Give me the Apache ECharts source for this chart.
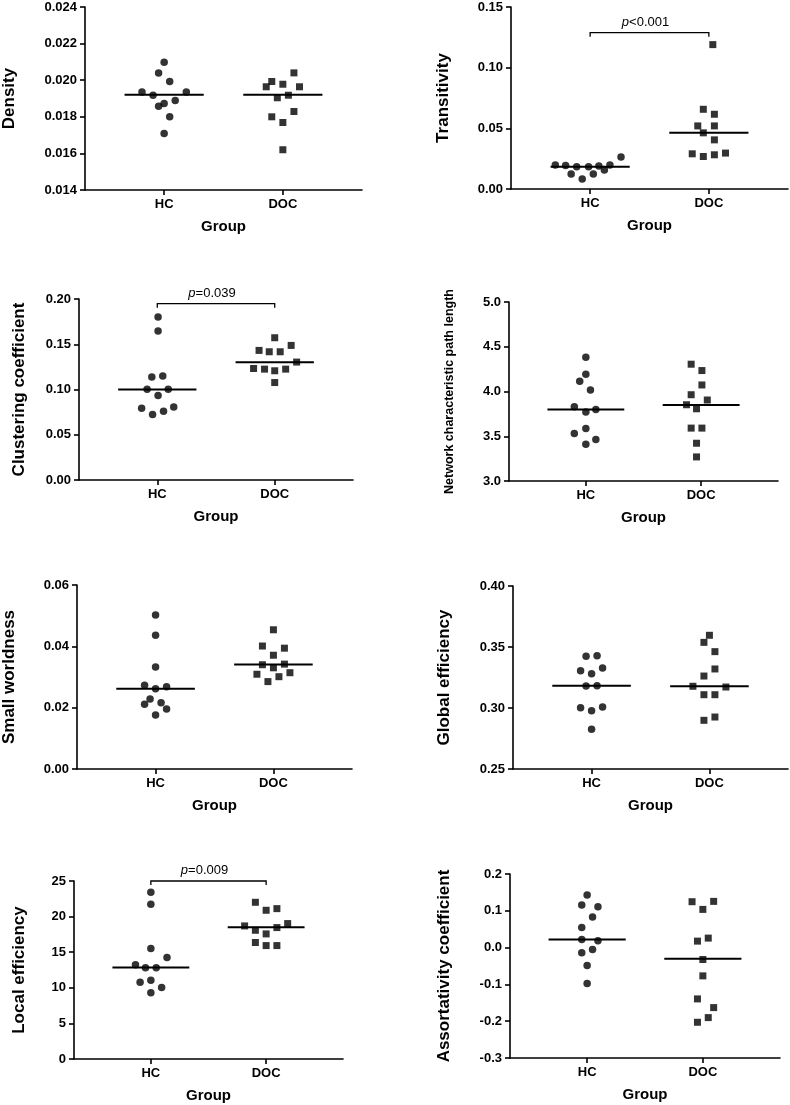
<!DOCTYPE html>
<html><head><meta charset="utf-8">
<script src="https://cdn.jsdelivr.net/npm/echarts@6/dist/echarts.min.js"></script>
<style>html,body{margin:0;padding:0;background:#fff}#c{width:790px;height:1105px}</style>
</head><body><div id="c"></div>
<script>
// ---------- data ----------
const groups = ['HC', 'DOC'];
const groupX = [1, 2.5];
const xAxisTitle = 'Group';

// Density
const densityHC = [0.01935, 0.01918, 0.02098, 0.02040, 0.01993, 0.01935, 0.01858, 0.01873, 0.01889, 0.01800, 0.01709];
const densityHCJitter = [-0.28, -0.14, 0, -0.07, 0.07, 0.28, -0.07, 0, 0.14, 0.07, 0];
const densityDOC = [0.01964, 0.01993, 0.01978, 0.02040, 0.01964, 0.01904, 0.01918, 0.01829, 0.01800, 0.01769, 0.01620];
const densityDOCJitter = [-0.21, -0.14, 0, 0.14, 0.21, -0.07, 0.07, 0.14, -0.14, 0, 0];
const densityMedian = [0.0192, 0.0192];
const densityTicks = ['0.014', '0.016', '0.018', '0.020', '0.022', '0.024'];

// Transitivity
const transHC = [0.0197, 0.0194, 0.0183, 0.0183, 0.0189, 0.0197, 0.0263, 0.0123, 0.0123, 0.0082, 0.0156];
const transHCJitter = [-0.44, -0.31, -0.17, -0.02, 0.11, 0.25, 0.39, -0.24, 0.04, -0.10, 0.18];
const transDOC = [0.119, 0.0657, 0.0616, 0.052, 0.052, 0.0463, 0.0405, 0.029, 0.0268, 0.0282, 0.0296];
const transDOCJitter = [0.05, -0.07, 0.07, -0.14, 0.07, -0.07, 0.07, -0.21, -0.07, 0.07, 0.21];
const transMedian = [0.0183, 0.0463];
const transTicks = ['0.00', '0.05', '0.10', '0.15'];
const transSig = { text: '<0.001', y: 0.1288 };

// Clustering coefficient
const clustHC = [0.180, 0.1646, 0.1137, 0.1148, 0.1004, 0.1004, 0.0934, 0.0793, 0.0808, 0.0760, 0.0723];
const clustHCJitter = [0.01, 0.01, -0.07, 0.07, -0.13, 0.14, 0.01, -0.20, 0.21, 0.08, -0.06];
const clustDOC = [0.1572, 0.1432, 0.1417, 0.1417, 0.1487, 0.1303, 0.1232, 0.1225, 0.1225, 0.1207, 0.1077];
const clustDOCJitter = [0, -0.20, -0.07, 0.07, 0.21, 0.28, -0.27, -0.13, 0.14, 0, 0];
const clustMedian = [0.100, 0.130];
const clustTicks = ['0.00', '0.05', '0.10', '0.15', '0.20'];
const clustSig = { text: '=0.039', y: 0.1948 };

// Network characteristic path length
const pathHC = [4.383, 4.193, 4.114, 4.017, 3.830, 3.770, 3.800, 3.587, 3.531, 3.464, 3.411];
const pathHCJitter = [0, 0, -0.08, 0.06, -0.15, 0, 0.13, 0, -0.15, 0.13, 0];
const pathDOC = [4.305, 4.234, 4.073, 3.964, 3.905, 3.852, 3.807, 3.591, 3.591, 3.422, 3.269];
const pathDOCJitter = [-0.13, 0.01, 0.01, -0.13, 0.08, -0.19, -0.06, -0.13, 0.01, -0.06, -0.06];
const pathMedian = [3.80, 3.849];
const pathTicks = ['3.0', '3.5', '4.0', '4.5', '5.0'];

// Small worldness
const swHC = [0.0502, 0.0436, 0.0333, 0.0273, 0.0262, 0.0268, 0.0228, 0.0211, 0.0216, 0.0196, 0.0176];
const swHCJitter = [0, 0, 0, -0.14, 0, 0.14, -0.07, -0.14, 0.07, 0.14, 0];
const swDOC = [0.0454, 0.0401, 0.0394, 0.0371, 0.0340, 0.0342, 0.0330, 0.0309, 0.0314, 0.0301, 0.0285];
const swDOCJitter = [0, -0.14, 0.14, 0, -0.14, 0.14, 0, -0.21, 0.21, 0.07, -0.07];
const swMedian = [0.0262, 0.0341];
const swTicks = ['0.00', '0.02', '0.04', '0.06'];

// Global efficiency
const geHC = [0.3424, 0.3429, 0.3306, 0.3328, 0.3281, 0.3180, 0.3183, 0.3003, 0.3008, 0.2978, 0.2825];
const geHCJitter = [-0.07, 0.07, -0.14, 0.14, 0, -0.07, 0.07, -0.14, 0.14, 0, 0];
const geDOC = [0.3596, 0.3538, 0.3462, 0.3320, 0.3262, 0.3178, 0.3172, 0.3109, 0.3109, 0.2926, 0.2899];
const geDOCJitter = [0, -0.07, 0.07, 0.07, -0.07, -0.21, 0.21, -0.07, 0.07, 0.07, -0.07];
const geMedian = [0.3183, 0.3178];
const geTicks = ['0.25', '0.30', '0.35', '0.40'];

// Local efficiency
const leHC = [23.41, 21.73, 15.51, 14.25, 13.22, 12.80, 12.80, 10.79, 11.07, 10.05, 9.30];
const leHCJitter = [0, 0, 0, 0.21, -0.20, -0.07, 0.07, -0.14, 0, 0.14, 0];
const leDOC = [22.01, 20.89, 21.12, 18.69, 19.02, 18.08, 18.46, 17.57, 16.36, 15.93, 15.93];
const leDOCJitter = [-0.14, 0, 0.14, -0.28, 0.28, -0.14, 0.14, 0, -0.14, 0, 0.14];
const leMedian = [12.85, 18.5];
const leTicks = ['0', '5', '10', '15', '20', '25'];
const leSig = { text: '=0.009', y: 25 };

// Assortativity coefficient
const asHC = [0.1428, 0.1156, 0.1111, 0.0829, 0.0548, 0.0221, 0.0185, -0.0051, -0.0142, -0.0486, -0.0976];
const asHCJitter = [0, -0.07, 0.14, 0.07, -0.07, -0.07, 0.14, 0.07, -0.07, 0, 0];
const asDOC = [0.1247, 0.1256, 0.1038, 0.0258, 0.0176, -0.0323, -0.0768, -0.1394, -0.1630, -0.1902, -0.2029];
const asDOCJitter = [-0.14, 0.14, 0, 0.07, -0.07, 0, 0, -0.07, 0.14, 0.07, -0.07];
const asMedian = [0.022, -0.0305];
const asTicks = ['-0.3', '-0.2', '-0.1', '0.0', '0.1', '0.2'];

const panels = [
  { title: 'Density', hc: densityHC, hcJ: densityHCJitter, doc: densityDOC, docJ: densityDOCJitter, median: densityMedian, ticks: densityTicks, sig: null },
  { title: 'Transitivity', hc: transHC, hcJ: transHCJitter, doc: transDOC, docJ: transDOCJitter, median: transMedian, ticks: transTicks, sig: transSig },
  { title: 'Clustering coefficient', hc: clustHC, hcJ: clustHCJitter, doc: clustDOC, docJ: clustDOCJitter, median: clustMedian, ticks: clustTicks, sig: clustSig },
  { title: 'Network characteristic path length', hc: pathHC, hcJ: pathHCJitter, doc: pathDOC, docJ: pathDOCJitter, median: pathMedian, ticks: pathTicks, sig: null },
  { title: 'Small worldness', hc: swHC, hcJ: swHCJitter, doc: swDOC, docJ: swDOCJitter, median: swMedian, ticks: swTicks, sig: null },
  { title: 'Global efficiency', hc: geHC, hcJ: geHCJitter, doc: geDOC, docJ: geDOCJitter, median: geMedian, ticks: geTicks, sig: null },
  { title: 'Local efficiency', hc: leHC, hcJ: leHCJitter, doc: leDOC, docJ: leDOCJitter, median: leMedian, ticks: leTicks, sig: leSig },
  { title: 'Assortativity coefficient', hc: asHC, hcJ: asHCJitter, doc: asDOC, docJ: asDOCJitter, median: asMedian, ticks: asTicks, sig: null }
];

// ---------- layout / style ----------
const layout = [
  { left: 84, top: 7, width: 278, height: 183, nameGap: 67, nameSize: 17 },
  { left: 511, top: 7, width: 277, height: 182, nameGap: 59, nameSize: 17 },
  { left: 79, top: 299, width: 274, height: 181, nameGap: 51, nameSize: 17 },
  { left: 509, top: 302, width: 269, height: 179, nameGap: 53, nameSize: 12.5 },
  { left: 77, top: 585, width: 275, height: 184, nameGap: 59, nameSize: 17 },
  { left: 513, top: 586, width: 275, height: 183, nameGap: 60, nameSize: 17 },
  { left: 74, top: 881, width: 269, height: 178, nameGap: 46, nameSize: 17 },
  { left: 510, top: 874, width: 270, height: 184, nameGap: 57, nameSize: 17 }
];
const FONT = '"Liberation Sans", Arial, Helvetica, sans-serif';
const X_MIN = 0, X_MAX = 3.5, MEDIAN_HALF = 0.5;
const axisLineStyle = { color: '#000', width: 1.6 };

const grid = [], xAxis = [], yAxis = [], series = [];

panels.forEach((p, i) => {
  const L = layout[i];
  grid.push({ left: L.left, top: L.top, width: L.width, height: L.height, containLabel: false });
  xAxis.push({
    type: 'value', gridIndex: i, min: X_MIN, max: X_MAX,
    name: xAxisTitle, nameLocation: 'middle', nameGap: 29,
    nameTextStyle: { fontFamily: FONT, fontWeight: 'bold', fontSize: 15, color: '#000' },
    axisLine: { show: true, onZero: false, lineStyle: axisLineStyle },
    axisTick: { show: true, length: 5, lineStyle: axisLineStyle, customValues: groupX },
    axisLabel: {
      customValues: groupX, margin: 8, color: '#000', fontFamily: FONT, fontWeight: 'bold', fontSize: 13,
      formatter: v => groups[groupX.findIndex(g => Math.abs(g - v) < 1e-6)] || ''
    },
    splitLine: { show: false }
  });
  const tmin = parseFloat(p.ticks[0]);
  const tmax = parseFloat(p.ticks[p.ticks.length - 1]);
  const tint = (tmax - tmin) / (p.ticks.length - 1);
  yAxis.push({
    type: 'value', gridIndex: i, min: tmin, max: tmax, interval: tint,
    name: p.title, nameLocation: 'middle', nameGap: L.nameGap, nameRotate: 90,
    nameTextStyle: { fontFamily: FONT, fontWeight: 'bold', fontSize: L.nameSize, color: '#000' },
    axisLine: { show: true, onZero: false, lineStyle: axisLineStyle },
    axisTick: { show: true, length: 5, lineStyle: axisLineStyle },
    axisLabel: {
      margin: 8, color: '#000', fontFamily: FONT, fontWeight: 'bold', fontSize: 13,
      formatter: v => p.ticks[Math.round((v - tmin) / tint)]
    },
    splitLine: { show: false }
  });
  series.push({
    type: 'scatter', xAxisIndex: i, yAxisIndex: i, symbol: 'circle', symbolSize: 7.5,
    itemStyle: { color: '#000' }, silent: true,
    data: p.hc.map((v, k) => [groupX[0] + p.hcJ[k], v])
  });
  series.push({
    type: 'scatter', xAxisIndex: i, yAxisIndex: i, symbol: 'rect', symbolSize: 7,
    itemStyle: { color: '#000' }, silent: true,
    data: p.doc.map((v, k) => [groupX[1] + p.docJ[k], v])
  });
  series.push({
    type: 'custom', xAxisIndex: i, yAxisIndex: i, silent: true, z: 5,
    data: groupX.map((x, k) => [x, p.median[k]]),
    renderItem: (params, api) => {
      const a = api.coord([api.value(0) - MEDIAN_HALF, api.value(1)]);
      const b = api.coord([api.value(0) + MEDIAN_HALF, api.value(1)]);
      return { type: 'line', shape: { x1: a[0], y1: a[1], x2: b[0], y2: b[1] }, style: { stroke: '#000', lineWidth: 2 } };
    }
  });
  if (p.sig) {
    series.push({
      type: 'custom', xAxisIndex: i, yAxisIndex: i, silent: true, z: 5, clip: false,
      data: [[groupX[0], groupX[1], p.sig.y]],
      renderItem: (params, api) => {
        const a = api.coord([api.value(0), api.value(2)]);
        const b = api.coord([api.value(1), api.value(2)]);
        return {
          type: 'group', children: [
            { type: 'polyline', shape: { points: [[a[0], a[1] + 4], [a[0], a[1]], [b[0], b[1]], [b[0], b[1] + 4]] },
              style: { stroke: '#000', lineWidth: 1.3, fill: null } },
            { type: 'text', x: (a[0] + b[0]) / 2 - 4, y: a[1] - 4,
              style: {
                text: '{i|p}{n|' + p.sig.text + '}', align: 'center', verticalAlign: 'bottom', fill: '#000',
                rich: {
                  i: { fontStyle: 'italic', fontSize: 13, fontFamily: FONT, fill: '#000' },
                  n: { fontSize: 13, fontFamily: FONT, fill: '#000' }
                }
              } }
          ]
        };
      }
    });
  }
});

const chart = echarts.init(document.getElementById('c'), null, { renderer: 'canvas' });
chart.setOption({ animation: false, backgroundColor: '#fff', grid, xAxis, yAxis, series });
</script></body></html>
